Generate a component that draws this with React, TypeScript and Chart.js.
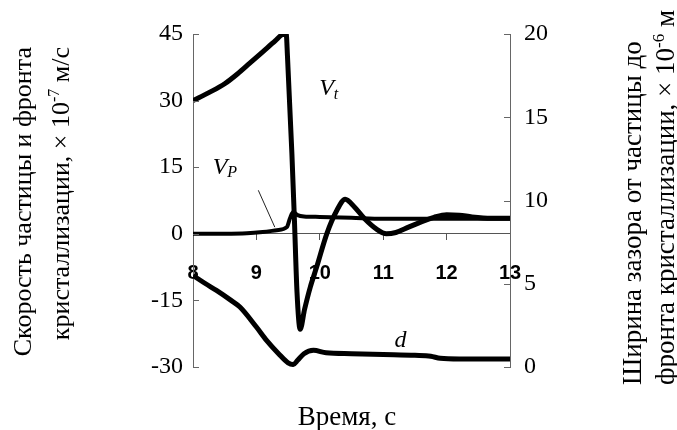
import React, { useEffect, useRef } from "react";
import { Chart, registerables } from "chart.js";

Chart.register(...registerables);

// ---- Data ----
const vtTime = [8.0, 8.25, 8.5, 8.7, 8.9, 9.1, 9.3, 9.4, 9.47, 9.49, 9.56, 9.6, 9.64, 9.69, 9.76, 9.85, 9.95, 10.11, 10.27, 10.4, 10.55, 10.7, 10.9, 11.05, 11.2, 11.4, 11.6, 11.8, 12.0, 12.2, 12.4, 12.7, 13.0];
const vtValues = [30, 31.8, 33.8, 36, 38.5, 41, 43.5, 44.8, 45, 40, 18, 3, -13, -21.5, -17, -12, -7.5, 0, 5.3, 7.8, 6, 3.5, 1, 0, 0.3, 1.5, 2.7, 3.7, 4.3, 4.2, 3.8, 3.5, 3.5];

const vpTime = [8.0, 8.5, 8.85, 9.1, 9.32, 9.48, 9.53, 9.58, 9.65, 9.75, 10.0, 10.5, 11.0, 11.5, 12.0, 12.5, 13.0];
const vpValues = [0, 0, 0.1, 0.4, 0.8, 1.5, 3.5, 4.9, 4.2, 3.9, 3.8, 3.6, 3.4, 3.4, 3.4, 3.4, 3.4];

const dTime = [8.0, 8.2, 8.37, 8.6, 8.74, 9.0, 9.16, 9.35, 9.5, 9.58, 9.65, 9.75, 9.9, 10.1, 10.5, 11.0, 11.5, 11.75, 11.9, 12.2, 13.0];
const dValues = [5.5, 5.0, 4.6, 4.0, 3.6, 2.4, 1.6, 0.8, 0.25, 0.15, 0.4, 0.8, 1.0, 0.85, 0.8, 0.75, 0.7, 0.65, 0.52, 0.48, 0.48];

const pointerTime = [9.03, 9.29];
const pointerValues = [9.8, 1.5];

const leftTicks = [-30, -15, 0, 15, 30, 45];
const rightTicks = [0, 5, 10, 15, 20];
const timeTicks = [8, 9, 10, 11, 12, 13];

const leftTitle1 = "Скорость частицы и фронта";
const leftTitle2 = "кристаллизации, × 10";
const leftExp = "-7";
const leftUnit = " м/с";
const rightTitle1 = "Ширина зазора от частицы до";
const rightTitle2 = "фронта кристаллизации, × 10";
const rightExp = "-6";
const rightUnit = " м";
const xTitle = "Время, с";

const toPts = (xs: number[], ys: number[]) => xs.map((x, i) => ({ x, y: ys[i] }));

const SERIF = "'Liberation Serif', 'Times New Roman', serif";

type Seg = { t: string; font: string; dy?: number };

function drawRich(ctx: CanvasRenderingContext2D, segs: Seg[], x: number, y: number, align: "left" | "right") {
  let total = 0;
  for (const s of segs) {
    ctx.font = s.font;
    total += ctx.measureText(s.t).width;
  }
  let cx = align === "left" ? x : x - total;
  ctx.textAlign = "left";
  for (const s of segs) {
    ctx.font = s.font;
    ctx.fillText(s.t, cx, y + (s.dy || 0));
    cx += ctx.measureText(s.t).width;
  }
}

const decorPlugin = {
  id: "decor",
  afterDraw(chart: any) {
    const ctx: CanvasRenderingContext2D = chart.ctx;
    const { chartArea } = chart;
    const ys = chart.scales.y;
    const y2 = chart.scales.y2;
    const xs = chart.scales.x;
    ctx.save();
    // inward ticks
    ctx.strokeStyle = "#666";
    ctx.lineWidth = 1;
    ctx.beginPath();
    for (const v of leftTicks) {
      const py = Math.round(ys.getPixelForValue(v)) + 0.5;
      ctx.moveTo(chartArea.left, py);
      ctx.lineTo(chartArea.left + 6, py);
    }
    for (const v of rightTicks) {
      const py = Math.round(y2.getPixelForValue(v)) + 0.5;
      ctx.moveTo(chartArea.right, py);
      ctx.lineTo(chartArea.right - 6, py);
    }
    ctx.stroke();

    ctx.fillStyle = "#000";
    ctx.textBaseline = "alphabetic";
    // series labels
    const itBig = `italic 24px ${SERIF}`;
    const itSmall = `italic 16px ${SERIF}`;
    drawRich(ctx, [{ t: "V", font: itBig }, { t: "t", font: itSmall, dy: 4 }], xs.getPixelForValue(9.99), ys.getPixelForValue(31.2), "left");
    drawRich(ctx, [{ t: "V", font: itBig }, { t: "P", font: itSmall, dy: 3 }], xs.getPixelForValue(8.31), ys.getPixelForValue(13.5), "left");
    drawRich(ctx, [{ t: "d", font: itBig }], xs.getPixelForValue(11.18), y2.getPixelForValue(1.2), "left");

    // axis titles
    const lf = `26px ${SERIF}`;
    const lsf = `16px ${SERIF}`;
    const rf = `27px ${SERIF}`;
    const rsf = `17px ${SERIF}`;
    // left
    ctx.save();
    ctx.translate(31, 47);
    ctx.rotate(-Math.PI / 2);
    drawRich(ctx, [{ t: leftTitle1, font: lf }], 0, 0, "right");
    ctx.restore();
    ctx.save();
    ctx.translate(69, 47);
    ctx.rotate(-Math.PI / 2);
    drawRich(ctx, [{ t: leftTitle2, font: lf }, { t: leftExp, font: lsf, dy: -10 }, { t: leftUnit, font: lf }], 0, 0, "right");
    ctx.restore();
    // right
    ctx.save();
    ctx.translate(641, 385);
    ctx.rotate(-Math.PI / 2);
    drawRich(ctx, [{ t: rightTitle1, font: rf }], 0, 0, "left");
    ctx.restore();
    ctx.save();
    ctx.translate(674, 385);
    ctx.rotate(-Math.PI / 2);
    drawRich(ctx, [{ t: rightTitle2, font: rf }, { t: rightExp, font: rsf, dy: -10 }, { t: rightUnit, font: rf }], 0, 0, "left");
    ctx.restore();
    // x title
    ctx.font = `27px ${SERIF}`;
    ctx.textAlign = "center";
    ctx.textBaseline = "middle";
    ctx.fillText(xTitle, 347, 418);
    ctx.restore();
  },
};

export default function App() {
  const ref = useRef<HTMLCanvasElement | null>(null);
  useEffect(() => {
    if (!ref.current) return;
    const chart = new Chart(ref.current, {
      type: "line",
      data: {
        datasets: [
          {
            label: "Vt",
            data: toPts(vtTime, vtValues),
            yAxisID: "y",
            borderColor: "#000",
            borderWidth: 5,
            pointRadius: 0,
            cubicInterpolationMode: "monotone",
            fill: false,
          },
          {
            label: "Vp",
            data: toPts(vpTime, vpValues),
            yAxisID: "y",
            borderColor: "#000",
            borderWidth: 4,
            pointRadius: 0,
            cubicInterpolationMode: "monotone",
            fill: false,
          },
          {
            label: "d",
            data: toPts(dTime, dValues),
            yAxisID: "y2",
            borderColor: "#000",
            borderWidth: 5,
            pointRadius: 0,
            cubicInterpolationMode: "monotone",
            fill: false,
          },
          {
            label: "pointer",
            data: toPts(pointerTime, pointerValues),
            yAxisID: "y",
            borderColor: "#222",
            borderWidth: 1,
            pointRadius: 0,
            fill: false,
          },
        ],
      },
      options: {
        animation: false,
        responsive: true,
        maintainAspectRatio: false,
        layout: { padding: { left: 0, right: 0, top: 34, bottom: 63 } },
        plugins: { legend: { display: false }, tooltip: { enabled: false }, title: { display: false } },
        scales: {
          x: {
            type: "linear",
            position: { y: 0 } as any,
            min: 8,
            max: 13,
            afterBuildTicks: (s: any) => {
              s.ticks = timeTicks.map((v) => ({ value: v }));
            },
            grid: { display: true, drawOnChartArea: false, drawTicks: true, tickLength: 6, color: "#555" },
            border: { display: true, color: "#555", width: 1 },
            ticks: {
              padding: 22,
              color: "#000",
              font: { family: "'Liberation Sans', Arial, sans-serif", size: 20, weight: "bold" },
              maxRotation: 0,
              autoSkip: false,
            },
          },
          y: {
            type: "linear",
            position: "left",
            min: -30,
            max: 45,
            afterBuildTicks: (s: any) => {
              s.ticks = leftTicks.map((v) => ({ value: v }));
            },
            afterFit: (s: any) => {
              s.width = 193;
            },
            grid: { display: true, drawOnChartArea: false, drawTicks: false },
            border: { display: true, color: "#666", width: 1 },
            ticks: { padding: 10, color: "#000", font: { family: SERIF, size: 24 } },
          },
          y2: {
            type: "linear",
            position: "right",
            min: 0,
            max: 20,
            afterBuildTicks: (s: any) => {
              s.ticks = rightTicks.map((v) => ({ value: v }));
            },
            afterFit: (s: any) => {
              s.width = 167;
            },
            grid: { display: true, drawOnChartArea: false, drawTicks: false },
            border: { display: true, color: "#666", width: 1 },
            ticks: { padding: 14, color: "#000", font: { family: SERIF, size: 24 } },
          },
        },
      } as any,
      plugins: [decorPlugin],
    });
    return () => chart.destroy();
  }, []);
  return (
    <div style={{ position: "fixed", left: 0, top: 0, width: 677, height: 430, background: "#fff" }}>
      <canvas ref={ref} />
    </div>
  );
}
